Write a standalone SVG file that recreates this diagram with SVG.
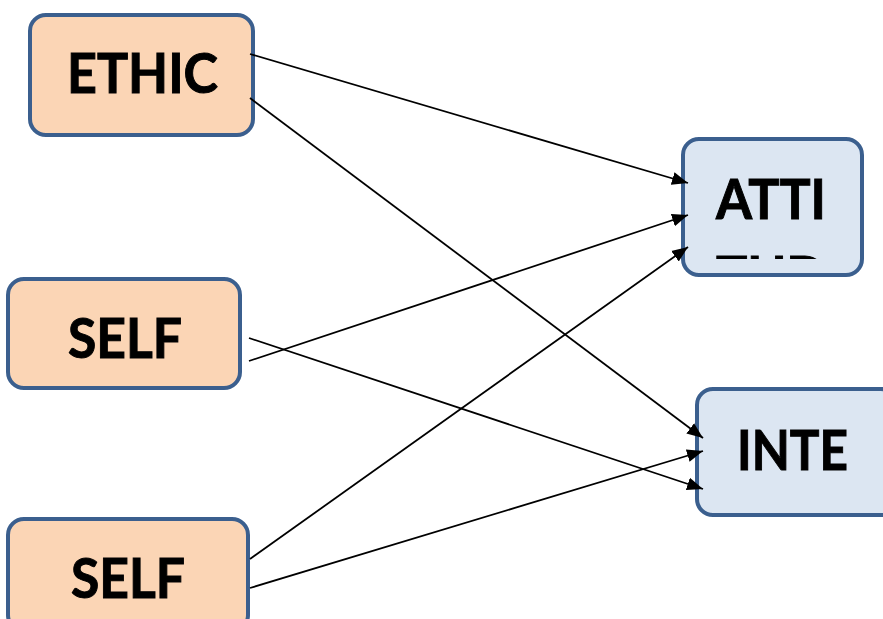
<svg xmlns="http://www.w3.org/2000/svg" width="883" height="619" viewBox="0 0 883 619">
<defs>
<style>
.src rect{fill:#FBD5B5;stroke:#3B5F8E;stroke-width:4}
.dst rect{fill:#DCE6F2;stroke:#3B5F8E;stroke-width:4}
text{font-family:Lato,"Open Sans","Liberation Sans",sans-serif;font-weight:bold;font-size:56px;fill:#000;stroke:#000;stroke-width:1;text-anchor:middle}
.edges line{stroke:#000;stroke-width:1.8;fill:none}
</style>
<marker id="arr" markerUnits="userSpaceOnUse" markerWidth="18" markerHeight="14" refX="16" refY="7" orient="auto">
<path d="M0,0.5 L16,7 L0,13.5 Z" fill="#000"/>
</marker>
<clipPath id="attiClip"><rect x="683" y="139" width="179" height="120"/></clipPath>
</defs>
<rect width="883" height="619" fill="#fff"/>
<g id="ethic" class="src">
<rect x="30" y="15" width="223" height="120" rx="16"/>
<text x="142.5" y="93" textLength="151" lengthAdjust="spacingAndGlyphs">ETHIC</text>
</g>
<g id="self1" class="src">
<rect x="8" y="279" width="232" height="109" rx="16"/>
<text x="125" y="358" textLength="114" lengthAdjust="spacingAndGlyphs">SELF</text>
</g>
<g id="self2" class="src">
<rect x="8" y="519" width="240" height="112" rx="16"/>
<text x="128" y="598" textLength="114" lengthAdjust="spacingAndGlyphs">SELF</text>
</g>
<g id="atti" class="dst">
<rect x="683" y="139" width="179" height="136" rx="16"/>
<text x="771" y="219" textLength="110" lengthAdjust="spacingAndGlyphs">ATTI</text>
<text x="771" y="296" textLength="110" lengthAdjust="spacingAndGlyphs" clip-path="url(#attiClip)">TUD</text>
</g>
<g id="inte" class="dst">
<rect x="697" y="389" width="200" height="126" rx="16"/>
<text x="792.5" y="470" textLength="111" lengthAdjust="spacingAndGlyphs">INTE</text>
</g>
<g class="edges">
<line x1="250" y1="54" x2="688" y2="183" marker-end="url(#arr)"/>
<line x1="250" y1="98" x2="703" y2="438" marker-end="url(#arr)"/>
<line x1="249" y1="361" x2="688" y2="215" marker-end="url(#arr)"/>
<line x1="249" y1="338" x2="703" y2="489" marker-end="url(#arr)"/>
<line x1="250" y1="559" x2="688" y2="247" marker-end="url(#arr)"/>
<line x1="250" y1="588" x2="703" y2="451" marker-end="url(#arr)"/>
</g>
</svg>
